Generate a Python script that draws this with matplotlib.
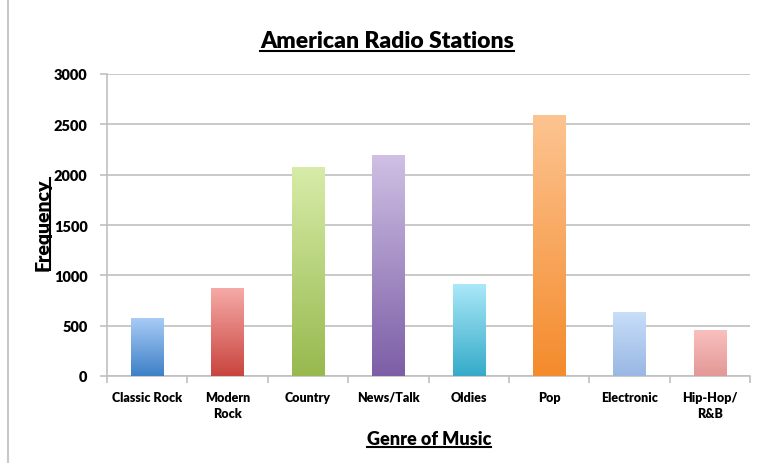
#!/usr/bin/env python

import numpy as np
import matplotlib
matplotlib.use("Agg")
import matplotlib.pyplot as plt
from matplotlib.lines import Line2D
from matplotlib.colors import LinearSegmentedColormap
from matplotlib.transforms import ScaledTranslation

# Data
genres = ["Classic Rock", "Modern\nRock", "Country", "News/Talk",
          "Oldies", "Pop", "Electronic", "Hip-Hop/\nR&B"]
stations = [570, 870, 2070, 2190, 910, 2590, 630, 450]

# gradient colours (top, bottom) for each bar
tops = ["#a9cbf6", "#f6aaa7", "#d7eca8", "#cfc0e4", "#aae8f8", "#fdc491", "#c8def9", "#f9c0be"]
bottoms = ["#3d80c7", "#c9443e", "#97b94e", "#7c5ea6", "#35abc9", "#f48b2c", "#98b7e3", "#e29896"]

FONT = "Lato"
GRID = "#c0c0c0"


def main():
    plt.rcParams["font.family"] = [FONT, "DejaVu Sans"]
    fig = plt.figure(figsize=(7.61, 4.64), dpi=100)
    ax = fig.add_axes([107 / 761, 1 - 377 / 464, 643 / 761, 302 / 464])

    x = np.arange(len(genres))
    bars = ax.bar(x, stations, width=0.4, color="none", zorder=3)

    # vertical gradient inside every bar
    grad = np.linspace(1, 0, 256).reshape(-1, 1)
    for b, top, bot in zip(bars, tops, bottoms):
        cmap = LinearSegmentedColormap.from_list("g", [bot, top])
        x0, w, h = b.get_x(), b.get_width(), b.get_height()
        ax.imshow(grad, cmap=cmap, aspect="auto", extent=(x0, x0 + w, 0, h),
                  origin="upper", zorder=3, interpolation="bicubic")

    ax.set_xlim(-0.5, len(genres) - 0.5)
    ax.set_ylim(0, 3000)
    ax.set_yticks(range(0, 3001, 500))
    ax.yaxis.grid(True, color=GRID, linewidth=1.2, zorder=0)
    ax.set_axisbelow(True)

    # ticks at the category boundaries, labels written per line on a baseline
    ax.set_xticks(np.arange(-0.5, len(genres), 1.0))
    ax.set_xticklabels([])
    ax.tick_params(axis="x", which="major", length=5, color=GRID, width=1.2)
    for i, lab in enumerate(genres):
        for j, line in enumerate(lab.split("\n")):
            off = ScaledTranslation(0, -(25 + 16 * j) / 100, fig.dpi_scale_trans)
            ax.text(i, 0, line, transform=ax.get_xaxis_transform() + off,
                    ha="center", va="baseline", fontsize=9, fontweight="heavy")

    ax.tick_params(axis="y", length=5, color=GRID, width=1.2, labelsize=10.5, pad=9)
    for lab in ax.get_yticklabels():
        lab.set_fontweight("heavy")

    for s in ["top", "right"]:
        ax.spines[s].set_visible(False)
    for s in ["left", "bottom"]:
        ax.spines[s].set_color(GRID)
        ax.spines[s].set_linewidth(1.2)

    # titles (underlined)
    t = fig.text(387 / 761, 1 - 42 / 464, "American Radio Stations", ha="center",
                 va="center", fontsize=16.5, fontweight="heavy")
    yl = fig.text(43 / 761, 1 - 225 / 464, "Frequency", ha="center", va="center",
                  rotation=90, fontsize=14, fontweight="heavy")
    xl = fig.text(429 / 761, 1 - 440 / 464, "Genre of Music", ha="center",
                  va="center", fontsize=13, fontweight="heavy")

    fig.canvas.draw()
    r = fig.canvas.get_renderer()
    W, H = fig.bbox.width, fig.bbox.height
    for txt in (t, xl):
        bb = txt.get_window_extent(r)
        yy = (bb.y0 + 1) / H
        fig.add_artist(Line2D([bb.x0 / W, bb.x1 / W], [yy, yy], color="black", lw=1.5))
    bb = yl.get_window_extent(r)
    xx = (bb.x1 - 1) / W
    fig.add_artist(Line2D([xx, xx], [bb.y0 / H, bb.y1 / H], color="black", lw=1.5))

    # page edge line at the left
    fig.add_artist(Line2D([8 / 761, 8 / 761], [0, 1], color="#c8c8c8", lw=1.5))

    fig.savefig("out.png", dpi=100)


if __name__ == "__main__":
    main()
